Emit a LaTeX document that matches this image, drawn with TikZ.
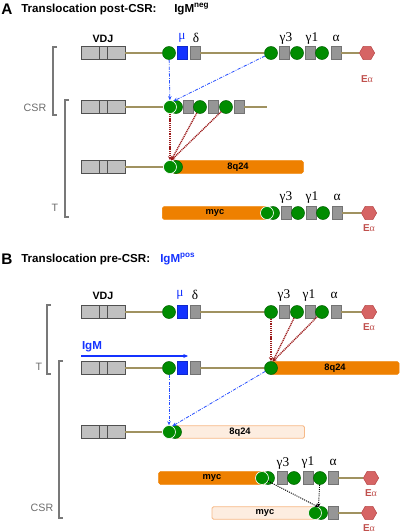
\documentclass[tikz,border=0pt]{standalone}
\usepackage{fontspec}
\setmainfont{Liberation Sans}
\newfontfamily\grk{Liberation Serif}
\usetikzlibrary{shapes.geometric,arrows.meta}

\definecolor{dnaline}{RGB}{160,146,96}
\definecolor{vdjfill}{RGB}{192,192,192}
\definecolor{vdjline}{RGB}{80,80,80}
\definecolor{segfill}{RGB}{150,150,150}
\definecolor{segline}{RGB}{115,115,115}
\definecolor{mublue}{RGB}{20,50,255}
\definecolor{swgreen}{RGB}{0,140,0}
\definecolor{swline}{RGB}{0,95,0}
\definecolor{mycorange}{RGB}{238,128,0}
\definecolor{palefill}{RGB}{253,237,224}
\definecolor{paleline}{RGB}{246,185,135}
\definecolor{enhfill}{RGB}{214,100,100}
\definecolor{enhline}{RGB}{185,75,75}
\definecolor{ealpha}{RGB}{192,80,77}
\definecolor{csrblue}{RGB}{40,80,255}
\definecolor{trared}{RGB}{155,25,25}
\definecolor{brkgray}{RGB}{120,120,120}

\tikzset{
  vdj/.style={draw=vdjline, fill=vdjfill, line width=0.6pt, minimum width=33pt,
    minimum height=9.75pt, inner sep=0pt,
    path picture={\draw[vdjline, line width=0.7pt]
      ([xshift=-3pt]path picture bounding box.north) -- ([xshift=-3pt]path picture bounding box.south)
      ([xshift=3pt]path picture bounding box.north) -- ([xshift=3pt]path picture bounding box.south);}},
  seg/.style={draw=segline, fill=segfill, line width=0.4pt, minimum width=7.5pt,
    minimum height=9.75pt, inner sep=0pt},
  mubox/.style={seg, draw=mublue!80!black, fill=mublue},
  sw/.style={circle, draw=swline, fill=swgreen, line width=0.4pt, minimum size=9.75pt, inner sep=0pt},
  swf/.style={sw, draw=white, line width=0.5pt},
  enh/.style={regular polygon, regular polygon sides=6, minimum size=11.5pt, inner sep=0pt,
    draw=enhline, fill=enhfill, line width=0.4pt},
  bar/.style={rounded corners=1.2pt, fill=mycorange, draw=mycorange, minimum height=9.5pt,
    inner sep=0pt, font=\bfseries\fontsize{7}{8}\selectfont},
  pale/.style={bar, fill=palefill, draw=paleline, line width=0.6pt},
  dna/.style={draw=dnaline, line width=0.8pt},
  vdjlab/.style={font=\bfseries\fontsize{8}{9}\selectfont, inner sep=0pt},
  glab/.style={font=\grk\fontsize{10}{11}\selectfont, inner sep=0pt},
  mulab/.style={glab, text=mublue},
  elab/.style={font=\bfseries\fontsize{7.5}{8}\selectfont, text=ealpha, inner sep=0pt},
  panel/.style={anchor=west, font=\bfseries\fontsize{11.5}{12}\selectfont, inner sep=0pt},
  title/.style={anchor=west, font=\bfseries\fontsize{8.7}{10}\selectfont, inner sep=0pt},
  brk/.style={draw=brkgray, line width=0.8pt},
  brklab/.style={font=\fontsize{8}{9}\selectfont, text=brkgray!90!black, inner sep=0pt},
  csr/.style={draw=csrblue, line width=0.6pt, dash pattern=on 2.5pt off 1pt on 0.6pt off 1pt,
    -{Stealth[length=3pt,width=2.6pt]}},
  tra/.style={draw=trared, line width=1pt, dash pattern=on 0.8pt off 0.6pt,
    -{Stealth[length=3pt,width=3pt]}},
  blk/.style={draw=black, line width=0.7pt, dash pattern=on 0.8pt off 0.8pt,
    -{Stealth[length=2.8pt,width=2.6pt]}}
}

\begin{document}
\begin{tikzpicture}[x=0.75pt, y=-0.75pt]
\useasboundingbox (0,0) rectangle (400,532);

% ---------- A ----------
\node[panel] (pA) at (1,9) {A};
\node[title] (tA) at (21,9) {Translocation post-CSR:};
\node[title] (tAi) at (174,9) {IgM\textsuperscript{neg}};

% germline
\node[vdj] (a1v) at (103,53) {};
\node[sw] (a1mus) at (169,53) {};
\node[mubox] (a1mu) at (182,53) {};
\node[seg] (a1d) at (195,53) {};
\node[sw] (a1g3s) at (271,53) {};
\node[seg] (a1g3) at (284,53) {};
\node[sw] (a1g1s) at (297,53) {};
\node[seg] (a1g1) at (310,53) {};
\node[sw] (a1as) at (322,53) {};
\node[seg] (a1a) at (336,53) {};
\node[enh] (a1e) at (367,53) {};
\draw[dna] (a1v) -- (a1mus);
\draw[dna] (a1d) -- (a1g3s);
\draw[dna] (a1a) -- (a1e);
\node[vdjlab] (a1vl) at (103,39) {VDJ};
\node[mulab] (a1mul) at (182,38) {μ};
\node[glab] (a1dl) at (196,38) {δ};
\node[glab] (a1g3l) at (286,39) {γ3};
\node[glab] (a1g1l) at (312,39) {γ1};
\node[glab] (a1al) at (336,38) {α};
\node[elab] (a1el) at (367,79) {E{\grk\mdseries α}};

% after CSR
\node[vdj] (a2v) at (103,107) {};
\node[sw] (a2sb) at (176,107) {};
\node[swf] (a2s) at (170,107) {};
\node[seg] (a2g3) at (188,107) {};
\node[sw] (a2g1s) at (200,107) {};
\node[seg] (a2g1) at (213,107) {};
\node[sw] (a2as) at (226,107) {};
\node[seg] (a2a) at (239,107) {};
\coordinate (a2end) at (267,107);
\draw[dna] (a2v) -- (a2s);
\draw[dna] (a2a) -- (a2end);

% der 8q24
\node[bar, minimum width=98pt] (a3b) at (238,167) {8q24};
\node[vdj] (a3v) at (103,167) {};
\node[sw] (a3sb) at (176,167) {};
\node[swf] (a3s) at (170,167) {};
\draw[dna] (a3v) -- (a3s);

% der myc
\node[bar, minimum width=79pt] (a4b) at (215,213) {myc};
\node[sw] (a4sb) at (273,213) {};
\node[swf] (a4s) at (267,213) {};
\node[seg] (a4g3) at (286,213) {};
\node[sw] (a4g1s) at (298,213) {};
\node[seg] (a4g1) at (311,213) {};
\node[sw] (a4as) at (323,213) {};
\node[seg] (a4a) at (337,213) {};
\node[enh] (a4e) at (369,213) {};
\draw[dna] (a4a) -- (a4e);
\node[glab] (a4g3l) at (286,198) {γ3};
\node[glab] (a4g1l) at (312,198) {γ1};
\node[glab] (a4al) at (337,197) {α};
\node[elab] (a4el) at (369,228) {E{\grk\mdseries α}};

\draw[csr] (a1mus) -- (a2s);
\draw[csr] (a1g3s) -- (a2s.60);
\draw[tra] (a2s) -- (a3s);
\draw[tra] (a2g1s) -- (a3s.80);
\draw[tra] (a2as) -- (a3s.80);

% brackets
\draw[brk] (57,47) -- (53,47) -- (53,115) -- (57,115);
\node[brklab] (aCSR) at (35,108) {CSR};
\draw[brk] (69,100) -- (65,100) -- (65,217) -- (69,217);
\node[brklab] (aT) at (55,208) {T};

% ---------- B ----------
\node[panel] (pB) at (1,259) {B};
\node[title] (tB) at (21,259) {Translocation pre-CSR:};
\node[title, text=mublue] (tBi) at (160,259) {IgM\textsuperscript{pos}};

% germline
\node[vdj] (b5v) at (103,312) {};
\node[sw] (b5mus) at (169,312) {};
\node[mubox] (b5mu) at (182,312) {};
\node[seg] (b5d) at (195,312) {};
\node[sw] (b5g3s) at (271,312) {};
\node[seg] (b5g3) at (284,312) {};
\node[sw] (b5g1s) at (297,312) {};
\node[seg] (b5g1) at (310,312) {};
\node[sw] (b5as) at (322,312) {};
\node[seg] (b5a) at (336,312) {};
\node[enh] (b5e) at (369,312) {};
\draw[dna] (b5v) -- (b5mus);
\draw[dna] (b5d) -- (b5g3s);
\draw[dna] (b5a) -- (b5e);
\node[vdjlab] (b5vl) at (103,296) {VDJ};
\node[mulab] (b5mul) at (180,295) {μ};
\node[glab] (b5dl) at (195,295) {δ};
\node[glab] (b5g3l) at (284,296) {γ3};
\node[glab] (b5g1l) at (309,296) {γ1};
\node[glab] (b5al) at (334,295) {α};
\node[elab] (b5el) at (369,327) {E{\grk\mdseries α}};

% der 8q24 (IgM)
\node[bar, minimum width=96pt] (b6b) at (335,368) {8q24};
\node[vdj] (b6v) at (103,368) {};
\node[sw] (b6s) at (169,368) {};
\node[mubox] (b6mu) at (182,368) {};
\node[seg] (b6d) at (195,368) {};
\node[sw] (b6s2) at (271,368) {};
\draw[dna] (b6v) -- (b6s);
\draw[dna] (b6d) -- (b6s2);
\node[font=\bfseries\fontsize{8.7}{10}\selectfont, text=mublue, inner sep=0pt] (b6igm) at (92,347) {IgM};
\coordinate (b6i0) at (81,356);
\coordinate (b6i1) at (188,356);
\draw[draw=mublue, line width=0.8pt, -{Stealth[length=3.5pt,width=3pt]}] (b6i0) -- (b6i1);

% after CSR on der 8q24
\node[pale, minimum width=96.75pt] (b7b) at (240,432) {8q24};
\node[vdj] (b7v) at (103,432) {};
\node[sw] (b7sb) at (175,432) {};
\node[swf] (b7s) at (169,432) {};
\draw[dna] (b7v) -- (b7s);

% der myc
\node[bar, minimum width=80pt] (b8b) at (212,478) {myc};
\node[sw] (b8sb) at (268,478) {};
\node[swf] (b8s) at (262,478) {};
\node[seg] (b8g3) at (282,478) {};
\node[sw] (b8g1s) at (294,478) {};
\node[seg] (b8g1) at (308,478) {};
\node[sw] (b8as) at (320,478) {};
\node[seg] (b8a) at (333,478) {};
\node[enh] (b8e) at (371,478) {};
\draw[dna] (b8a) -- (b8e);
\node[glab] (b8g3l) at (283,463) {γ3};
\node[glab] (b8g1l) at (308,463) {γ1};
\node[glab] (b8al) at (333,462) {α};
\node[elab] (b8el) at (371,493) {E{\grk\mdseries α}};

% der myc after CSR
\node[pale, minimum width=79.5pt] (b9b) at (265,513) {myc};
\node[sw] (b9sb) at (321,513) {};
\node[swf] (b9s) at (315,513) {};
\node[seg] (b9a) at (333,513) {};
\node[enh] (b9e) at (369,513) {};
\draw[dna] (b9a) -- (b9e);
\node[elab] (b9el) at (369,528) {E{\grk\mdseries α}};

\draw[tra] (b5g3s) -- (b6s2);
\draw[tra] (b5g1s) -- (b6s2.75);
\draw[tra] (b5as) -- (b6s2.75);
\draw[csr] (b6s) -- (b7s);
\draw[csr] (b6s2) -- (b7s.60);
\draw[blk] (b8s) -- (b9s.60);
\draw[blk] (b8as) -- (b9s.60);

% brackets
\draw[brk] (51,305) -- (47,305) -- (47,374) -- (51,374);
\node[brklab] (bT) at (39,367) {T};
\draw[brk] (63,361) -- (59,361) -- (59,518) -- (63,518);
\node[brklab] (bCSR) at (42,508) {CSR};

\end{tikzpicture}
\end{document}
